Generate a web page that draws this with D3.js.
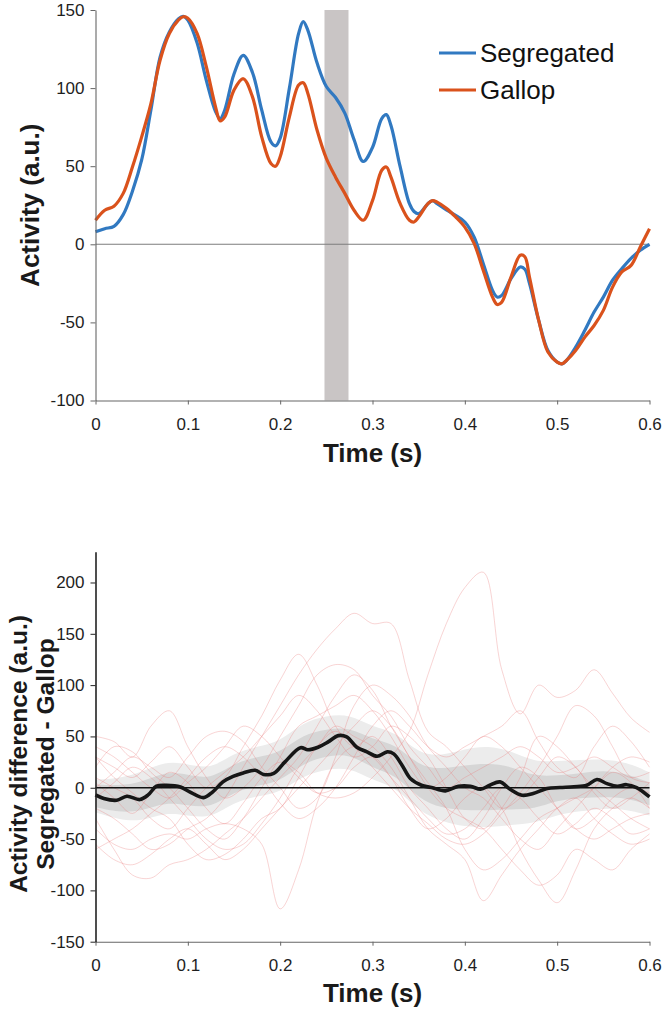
<!DOCTYPE html>
<html>
<head>
<meta charset="utf-8">
<script src="https://cdn.jsdelivr.net/npm/d3@7"></script>
<style>
  html, body { margin: 0; padding: 0; background: #fff; }
  svg { display: block; }
  text { font-family: "Liberation Sans", Arial, Helvetica, sans-serif; }
</style>
</head>
<body>
<svg id="chart" width="666" height="1012"></svg>
<script>
// ---------------- Top panel data ----------------
const topTimes = [0, .01, .02, .03, .04, .05, .06, .07, .08, .09, .095, .1, .11, .12, .13, .135, .14, .15, .16, .17, .18, .19, .195, .2, .21, .22, .225, .23, .24, .25, .26, .27, .28, .29, .3, .31, .315, .32, .33, .34, .345, .35, .36, .365, .37, .38, .39, .4, .41, .42, .43, .435, .44, .45, .46, .465, .47, .48, .49, .5, .505, .51, .52, .53, .54, .55, .56, .57, .58, .59, .6];
const segregated = [8, 10, 11.5, 19, 34, 54, 86, 120, 136, 144.5, 146, 143.5, 129, 105, 85, 80.5, 86, 109, 121, 110, 86, 65.5, 63, 68, 100, 135, 142.5, 137, 116, 101, 94, 84, 67, 53, 62, 80.5, 83, 76, 49.5, 26, 21, 19.6, 26, 28, 26, 22, 18.6, 14.3, 4.7, -12.4, -29.5, -33.8, -32.7, -22, -14.5, -16, -25, -48.7, -68, -75.4, -76.5, -74.4, -65.8, -55, -43.4, -33.8, -23, -15.6, -9, -3.8, 0];
const gallop = [15.4, 21.8, 24.4, 32.6, 49.5, 68.8, 90, 118, 135, 143.6, 145.7, 144.7, 135, 113.7, 88, 79, 81.6, 98.7, 106, 94.4, 68.8, 51.7, 50, 56, 81.6, 102, 103.4, 96.6, 73, 55, 43, 32.6, 21.8, 15.4, 28, 47.4, 49.5, 43, 26, 15.4, 14.3, 17.5, 26, 28, 27, 23, 17.5, 11, 0.6, -16.7, -33.8, -38.5, -37, -21, -7, -8, -21, -48.7, -69, -75.4, -76.5, -74.4, -68, -59.4, -52, -42.3, -27.4, -17.7, -13.5, -1.7, 10];
const highlightWindow = [0.248, 0.274];
const seriesNames = ["Segregated", "Gallop"];
const topYTicks = [150, 100, 50, 0, -50, -100];

// ---------------- Bottom panel data ----------------
const meanTimes = [0, .009, .023, .034, .048, .057, .066, .077, .092, .102, .117, .127, .138, .149, .16, .173, .182, .193, .205, .222, .23, .241, .252, .263, .272, .283, .294, .305, .316, .323, .332, .341, .353, .364, .379, .393, .406, .417, .427, .438, .449, .462, .474, .489, .503, .518, .532, .543, .554, .565, .575, .586, .6];
const meanDiff = [-7, -10.5, -12.2, -8.3, -11.5, -7, 1.5, 2.4, 0.8, -4, -9.6, -4, 5.7, 11, 14.4, 17, 13, 14, 25, 39, 37, 39.5, 44.7, 50.8, 49.5, 39.5, 35, 30.7, 35, 33, 22, 9, 2.4, 0.2, -3, 1.5, 1.5, -1.5, 2.4, 5.7, -1.5, -7.3, -5.7, -0.8, 0.2, 1, 2.4, 8, 4, 1.5, 3, 0.2, -9];

const bandTimes = [0, .025, .05, .075, .1, .125, .15, .175, .2, .225, .25, .275, .3, .325, .35, .375, .4, .425, .45, .475, .5, .525, .55, .575, .6];
const bandCenter = [-8, -11, -9, 1, -2, -6, 10, 16, 20, 38, 44, 46, 33, 28, 5, -1, 0, 1, 0, -5, 0, 2, 4, 2, -6];
const innerHalf = [11, 13, 14, 15, 15, 14, 14, 14, 14, 14, 13, 13, 14, 15, 16, 19, 22, 23, 21, 16, 12, 12, 13, 12, 11];
const outerHalf = [16, 20, 24, 25, 25, 24, 24, 24, 25, 26, 26, 26, 26, 27, 28, 32, 38, 40, 36, 30, 26, 25, 24, 23, 21];

const subjectTimes = [0, .02, .04, .06, .08, .1, .12, .14, .16, .18, .2, .22, .24, .26, .28, .3, .32, .34, .36, .38, .4, .42, .44, .46, .48, .5, .52, .54, .56, .58, .6];
const subj01 = [5, -10, -25, -5, 15, 5, -20, -35, -15, 10, 25, 15, -5, -10, -5, 10, 30, 55, 110, 160, 195, 210, 115, 72, 100, 88, 95, 115, 92, 68, 54];
const subj02 = [-20, -30, -45, -60, -55, -40, -30, -10, 20, 50, 80, 110, 135, 155, 170, 160, 160, 105, 55, 40, 20, 0, -20, -10, 10, 30, 20, -5, -20, -10, 5];
const subj03 = [-40, -55, -60, -50, -45, -50, -40, -35, -40, -55, -118, -80, -15, 25, 40, 30, 10, -10, -30, -45, -40, -20, 0, -10, -30, -45, -35, -20, -30, -45, -40];
const subj04 = [30, 20, 10, 25, 40, 20, 0, 10, 40, 70, 105, 130, 100, 60, 40, 50, 30, 0, -20, -40, -50, -30, 0, 20, 10, -20, -40, -30, -10, 0, -5];
const subj05 = [50, 45, 30, 60, 75, 40, 10, -10, 0, 20, 50, 80, 110, 120, 115, 90, 70, 40, 20, 0, 10, 20, 30, 40, 30, 15, 20, 30, 20, 10, 15];
const subj06 = [-30, -60, -85, -88, -75, -70, -60, -45, -30, -10, 10, 30, 60, 90, 110, 95, 60, 30, 0, -20, -30, -40, -60, -80, -95, -85, -60, -70, -80, -60, -45];
const subj07 = [-55, -70, -75, -65, -50, -40, -55, -70, -60, -40, -20, 0, 20, 40, 60, 75, 60, 30, 5, -20, -60, -80, -70, -50, -30, -20, -10, 0, 15, 5, -20];
const subj08 = [0, 15, 30, 20, 10, 30, 50, 55, 45, 20, 0, -20, -10, 30, 80, 100, 90, 70, 40, 20, 0, -10, -30, -50, -60, -40, -20, 0, 20, 30, 25];
const subj09 = [20, 40, 35, 15, 0, -20, -40, -50, -30, 0, 30, 60, 70, 80, 90, 75, 50, 20, 0, 10, 30, 50, 40, 20, 0, -20, -40, -50, -40, -30, -25];
const subj10 = [-10, 5, 20, 10, -10, -30, -50, -60, -55, -35, -10, 20, 40, 60, 50, 40, 20, -10, -40, -55, -70, -110, -85, -60, -40, -20, -10, -30, -45, -55, -50];
const subj11 = [40, 30, 15, 0, -10, 5, 20, 40, 60, 50, 30, 10, -5, 0, 20, 30, 10, -20, -40, -30, -10, 0, -20, -60, -90, -112, -80, -40, -20, -10, -20];
const subj12 = [10, 0, -10, -30, -40, -20, 0, 15, 30, 50, 70, 90, 75, 50, 30, 40, 60, 50, 30, 0, -30, -40, -20, 10, 50, 40, 20, 0, -15, -30, -40];
const subj13 = [-60, -50, -40, -25, -10, 10, 30, 40, 30, 10, -15, -30, -20, 0, 30, 60, 75, 60, 40, 30, 40, 50, 60, 75, 45, 20, 10, 40, 60, 45, 20];
const subj14 = [30, 10, -5, -20, -30, -55, -70, -65, -50, -30, -20, 10, 40, 55, 40, 20, 0, -20, -35, -50, -55, -45, -25, -5, 20, 50, 80, 70, 40, 10, 5];
const subjects = [subj01, subj02, subj03, subj04, subj05, subj06, subj07, subj08, subj09, subj10, subj11, subj12, subj13, subj14];
const bottomYTicks = [200, 150, 100, 50, 0, -50, -100, -150];

const xTicks = [0, 0.1, 0.2, 0.3, 0.4, 0.5, 0.6];
const xTickLabels = ["0", "0.1", "0.2", "0.3", "0.4", "0.5", "0.6"];

// ---------------- Drawing ----------------
const svg = d3.select("#chart");
const x = d3.scaleLinear().domain([0, 0.6]).range([95.5, 649.5]);
const yTop = d3.scaleLinear().domain([-100, 150]).range([400.5, 10]);
const yBot = d3.scaleLinear().domain([-150, 230]).range([941.7, 551.7]);

const colors = { Segregated: "#3179c1", Gallop: "#da521c" };
const tickFont = "17px";

function styleAxis(g, lineColor, lineWidth) {
  g.select(".domain").attr("stroke", lineColor).attr("stroke-width", lineWidth);
  g.selectAll(".tick line").attr("stroke", lineColor).attr("stroke-width", 1);
  g.selectAll(".tick text").attr("fill", "#1e1e1e").style("font-size", tickFont)
    .style("font-family", '"Liberation Sans", Arial, sans-serif');
}

// ===== TOP PANEL =====
const topG = svg.append("g");
topG.append("rect")
  .attr("x", x(highlightWindow[0]))
  .attr("y", yTop(150))
  .attr("width", x(highlightWindow[1]) - x(highlightWindow[0]))
  .attr("height", yTop(-100) - yTop(150))
  .attr("fill", "#c9c5c5");

topG.append("line")
  .attr("x1", x(0)).attr("x2", x(0.6))
  .attr("y1", yTop(0)).attr("y2", yTop(0))
  .attr("stroke", "#7d7d7d").attr("stroke-width", 1.1);

const topLine = d3.line().x((d, i) => x(topTimes[i])).y(d => yTop(d)).curve(d3.curveCatmullRom.alpha(0.5));
topG.append("path").datum(segregated).attr("d", topLine)
  .attr("fill", "none").attr("stroke", colors.Segregated).attr("stroke-width", 3.2).attr("stroke-linejoin", "round");
topG.append("path").datum(gallop).attr("d", topLine)
  .attr("fill", "none").attr("stroke", colors.Gallop).attr("stroke-width", 3.2).attr("stroke-linejoin", "round");

const topYAxis = topG.append("g").attr("transform", `translate(${x(0)},0)`)
  .call(d3.axisLeft(yTop).tickValues(topYTicks).tickSize(5).tickSizeOuter(0).tickPadding(6).tickFormat(d => String(d)));
styleAxis(topYAxis, "#666", 1.1);
const topXAxis = topG.append("g").attr("transform", `translate(0,${yTop(-100)})`)
  .call(d3.axisBottom(x).tickValues(xTicks).tickSize(4).tickSizeOuter(0).tickPadding(13.2).tickFormat((d, i) => xTickLabels[i]));
styleAxis(topXAxis, "#666", 1.1);

topG.append("text").attr("x", (x(0) + x(0.6)) / 2).attr("y", 461.7)
  .attr("text-anchor", "middle").attr("font-weight", "bold").attr("font-size", "26px").attr("fill", "#1a1a1a")
  .text("Time (s)");
topG.append("text").attr("transform", `translate(30,${(yTop(150) + yTop(-100)) / 2}) rotate(-90)`)
  .attr("dy", "0.36em").attr("text-anchor", "middle").attr("font-weight", "bold").attr("font-size", "26px").attr("fill", "#1a1a1a")
  .text("Activity (a.u.)");

// legend
const legend = topG.append("g");
seriesNames.forEach((name, i) => {
  const ly = 53 + i * 37;
  legend.append("line").attr("x1", 439).attr("x2", 476).attr("y1", ly).attr("y2", ly)
    .attr("stroke", colors[name]).attr("stroke-width", 3.2);
  legend.append("text").attr("x", 480).attr("y", ly).attr("dy", "0.36em")
    .attr("font-size", "26px").attr("fill", "#111").text(name);
});

// ===== BOTTOM PANEL =====
const botG = svg.append("g");

const outerArea = d3.area().x((d, i) => x(bandTimes[i]))
  .y0((d, i) => yBot(bandCenter[i] - outerHalf[i])).y1((d, i) => yBot(bandCenter[i] + outerHalf[i]))
  .curve(d3.curveBasis);
const innerArea = d3.area().x((d, i) => x(bandTimes[i]))
  .y0((d, i) => yBot(bandCenter[i] - innerHalf[i])).y1((d, i) => yBot(bandCenter[i] + innerHalf[i]))
  .curve(d3.curveBasis);
botG.append("path").datum(bandCenter).attr("d", outerArea).attr("fill", "#ececec");
botG.append("path").datum(bandCenter).attr("d", innerArea).attr("fill", "#d6d6d6");

const subjLine = d3.line().x((d, i) => x(subjectTimes[i])).y(d => yBot(d)).curve(d3.curveCatmullRom.alpha(0.5));
botG.append("g").selectAll("path").data(subjects).join("path")
  .attr("d", subjLine).attr("fill", "none")
  .attr("stroke", "rgb(232,120,120)").attr("stroke-opacity", 0.32).attr("stroke-width", 1);

botG.append("line")
  .attr("x1", x(0)).attr("x2", x(0.6))
  .attr("y1", yBot(0)).attr("y2", yBot(0))
  .attr("stroke", "#111").attr("stroke-width", 1.3);

const meanLine = d3.line().x((d, i) => x(meanTimes[i])).y(d => yBot(d)).curve(d3.curveCatmullRom.alpha(0.5));
botG.append("path").datum(meanDiff).attr("d", meanLine)
  .attr("fill", "none").attr("stroke", "#161616").attr("stroke-width", 3.6).attr("stroke-linejoin", "round");

const botYAxis = botG.append("g").attr("transform", `translate(${x(0)},0)`)
  .call(d3.axisLeft(yBot).tickValues(bottomYTicks).tickSize(5).tickSizeOuter(0).tickPadding(6).tickFormat(d => String(d)));
styleAxis(botYAxis, "#222", 1.6);
const botXAxis = botG.append("g").attr("transform", `translate(0,${yBot(-150)})`)
  .call(d3.axisBottom(x).tickValues(xTicks).tickSize(4).tickSizeOuter(0).tickPadding(13.2).tickFormat((d, i) => xTickLabels[i]));
styleAxis(botXAxis, "#666", 1.1);
botYAxis.raise();

botG.append("text").attr("x", (x(0) + x(0.6)) / 2).attr("y", 1001.7)
  .attr("text-anchor", "middle").attr("font-weight", "bold").attr("font-size", "26px").attr("fill", "#1a1a1a")
  .text("Time (s)");
const ylab = botG.append("text").attr("transform", `translate(0,754) rotate(-90)`)
  .attr("text-anchor", "middle").attr("font-weight", "bold").attr("font-size", "24.5px").attr("fill", "#1a1a1a");
ylab.append("tspan").attr("x", 0).attr("y", 18).attr("dy", "0.36em").text("Activity difference (a.u.)");
ylab.append("tspan").attr("x", 0).attr("y", 45.5).attr("dy", "0.36em").text("Segregated - Gallop");
</script>
</body>
</html>
